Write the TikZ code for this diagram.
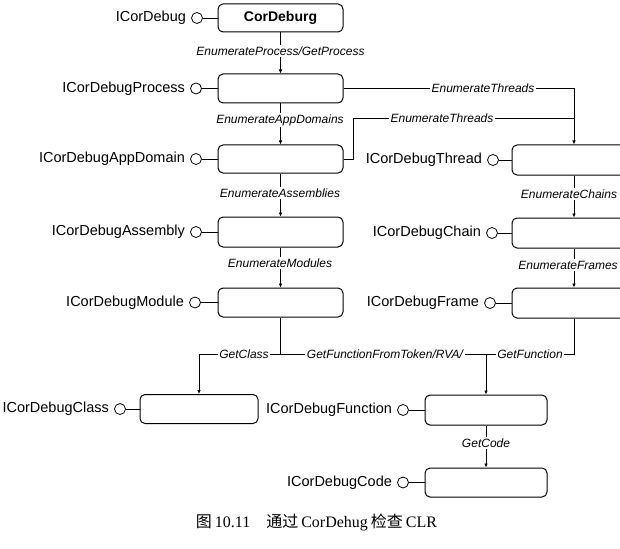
\documentclass[tikz,border=0pt]{standalone}
\usepackage{fontspec}
\setmainfont{Liberation Sans}
\newfontfamily\cjk{Noto Sans CJK SC}
\newfontfamily\capserif{Liberation Serif}
\usetikzlibrary{arrows.meta}
\tikzset{
  box/.style={draw, rounded corners=5pt, line width=1pt, inner sep=0pt},
  port/.style={draw, circle, minimum size=11pt, inner sep=0pt, line width=0.8pt},
  iname/.style={font=\fontsize{14.5}{16}\selectfont, anchor=east, inner sep=0pt},
  lab/.style={font=\fontsize{12}{14}\selectfont\itshape, fill=white, inner sep=1.5pt},
  conn/.style={line width=0.7pt},
  arr/.style={conn, -{Latex[length=4pt,width=3.5pt]}}
}
\begin{document}
\begin{tikzpicture}[x=1pt,y=-1pt]
\fill[white] (0,0) rectangle (620,548);
\useasboundingbox (0,0) rectangle (620,548);
% left column boxes
\node[box, minimum width=125pt, minimum height=28pt, font=\bfseries\fontsize{14}{16}\selectfont] (cd) at (280.5,18) {CorDeburg};
\node[box, minimum width=125pt, minimum height=29pt] (proc) at (280.5,88.5) {};
\node[box, minimum width=125pt, minimum height=28pt] (app) at (280.5,159) {};
\node[box, minimum width=125pt, minimum height=30pt] (asm) at (280.5,232) {};
\node[box, minimum width=125pt, minimum height=29pt] (mod) at (280.5,302.5) {};
% right column boxes
\node[box, minimum width=124pt, minimum height=30pt] (thr) at (574,160) {};
\node[box, minimum width=124pt, minimum height=30pt] (chn) at (574,233) {};
\node[box, minimum width=124pt, minimum height=30pt] (frm) at (574,303) {};
% bottom boxes
\node[box, minimum width=118pt, minimum height=29pt] (cls) at (199,409) {};
\node[box, minimum width=122pt, minimum height=30pt] (fun) at (486,410) {};
\node[box, minimum width=122pt, minimum height=29pt] (code) at (486,482.5) {};
% ports
\node[port] (pcd) at (197,18) {};
\node[port] (pproc) at (196,88.5) {};
\node[port] (papp) at (196,159) {};
\node[port] (pasm) at (196,232) {};
\node[port] (pmod) at (195,302.5) {};
\node[port] (pthr) at (493,160) {};
\node[port] (pchn) at (492,233) {};
\node[port] (pfrm) at (490,303) {};
\node[port] (pcls) at (120,409) {};
\node[port] (pfun) at (403,410) {};
\node[port] (pcode) at (403,482.5) {};
% interface names
\node[iname] (tcd) at ([xshift=-5pt]pcd.west) {ICorDebug};
\node[iname] (tproc) at ([xshift=-5pt]pproc.west) {ICorDebugProcess};
\node[iname] (tapp) at ([xshift=-5pt]papp.west) {ICorDebugAppDomain};
\node[iname] (tasm) at ([xshift=-5pt]pasm.west) {ICorDebugAssembly};
\node[iname] (tmod) at ([xshift=-5pt]pmod.west) {ICorDebugModule};
\node[iname] (tthr) at ([xshift=-5pt]pthr.west) {ICorDebugThread};
\node[iname] (tchn) at ([xshift=-5pt]pchn.west) {ICorDebugChain};
\node[iname] (tfrm) at ([xshift=-5pt]pfrm.west) {ICorDebugFrame};
\node[iname] (tcls) at ([xshift=-5pt]pcls.west) {ICorDebugClass};
\node[iname] (tfun) at ([xshift=-5pt]pfun.west) {ICorDebugFunction};
\node[iname] (tcode) at ([xshift=-5pt]pcode.west) {ICorDebugCode};
% port links
\foreach \p/\b in {pcd/cd, pproc/proc, papp/app, pasm/asm, pmod/mod, pthr/thr, pchn/chn, pfrm/frm, pcls/cls, pfun/fun, pcode/code}
  \draw[conn] (\p.east) -- (\p.east -| \b.west);
% junction coordinates
\coordinate (jt) at (353,118);
\coordinate (jm) at (280.5,354.5);
% connectors
\draw[arr] (cd.south) -- (proc.north);
\draw[arr] (proc.south) -- (app.north);
\draw[arr] (app.south) -- (asm.north);
\draw[arr] (asm.south) -- (mod.north);
\draw[arr] (proc.east) -| (thr.north);
\draw[conn] (app.east) -| (jt) -- (jt -| thr.north);
\draw[arr] (thr.south) -- (chn.north);
\draw[arr] (chn.south) -- (frm.north);
\draw[arr] (mod.south) -- (jm) -| (cls.north);
\draw[arr] (jm) -| (fun.north);
\draw[conn] (frm.south) |- (jm -| fun.north);
\draw[arr] (fun.south) -- (code.north);
% labels
\node[lab] (l1) at (280.5,51) {EnumerateProcess/GetProcess};
\node[lab] (l2) at (280,120) {EnumerateAppDomains};
\node[lab] (l3) at (280,193) {EnumerateAssemblies};
\node[lab] (l4) at (280,263) {EnumerateModules};
\node[lab] (l5) at (483,88.5) {EnumerateThreads};
\node[lab] (l6) at (442,118) {EnumerateThreads};
\node[lab] (l7) at (569,194) {EnumerateChains};
\node[lab] (l8) at (568,265) {EnumerateFrames};
\node[lab] (l9) at (244,354.5) {GetClass};
\node[lab] (l10) at (385,354.5) {GetFunctionFromToken/RVA/};
\node[lab] (l11) at (530,354.5) {GetFunction};
\node[lab] (l12) at (486,443) {GetCode};
% caption
\node[inner sep=0pt, font=\fontsize{16}{19}\selectfont] (cap) at (316.5,522)
  {{\cjk 图}\hspace{3pt}{\capserif 10.11}\hspace{16pt}{\cjk 通过}\hspace{3pt}{\capserif CorDehug}\hspace{3pt}{\cjk 检查}\hspace{3pt}{\capserif CLR}};
\end{tikzpicture}
\end{document}
